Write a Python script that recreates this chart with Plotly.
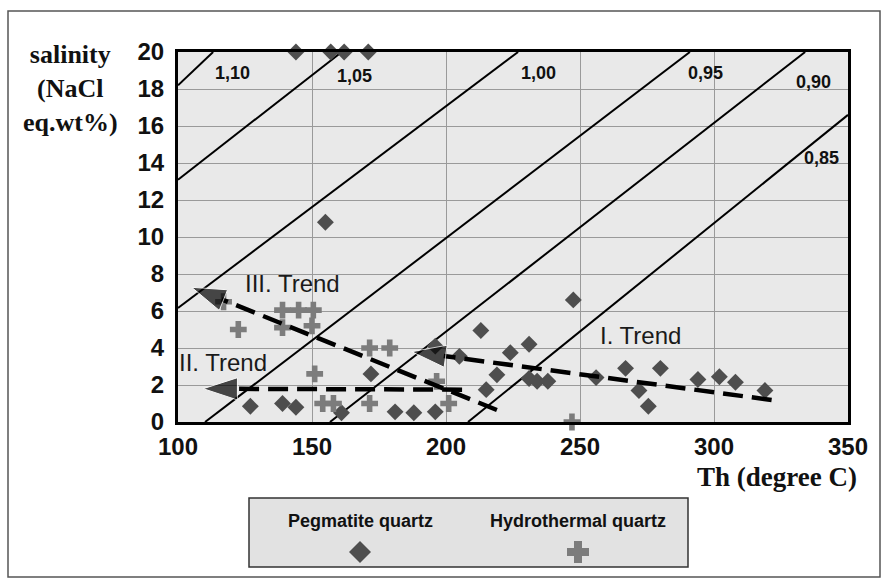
import plotly.graph_objects as go

# ---------------- data ----------------
peg_x = [144, 157, 162, 171, 155, 127, 139, 144, 161, 172, 181, 188, 196,
         196, 205, 213, 215, 219, 224, 231, 231, 234, 238, 247.5, 256, 267,
         272, 275.5, 280, 294, 302, 308, 319]
peg_y = [20, 20, 20, 20, 10.8, 0.85, 1.0, 0.8, 0.5, 2.6, 0.55, 0.5, 0.55,
         4.1, 3.55, 4.95, 1.75, 2.55, 3.75, 4.2, 2.35, 2.2, 2.2, 6.6, 2.4, 2.9,
         1.7, 0.85, 2.9, 2.3, 2.45, 2.15, 1.7]

hyd_x = [117, 122.5, 139, 145, 150.5, 139, 150, 151, 154, 158, 171.5, 171.5,
         179, 196.5, 201, 247]
hyd_y = [6.5, 5.0, 6.05, 6.05, 6.05, 5.1, 5.2, 2.6, 1.0, 1.0, 1.0, 4.0,
         4.0, 2.2, 1.0, 0.0]

# density isopleths (g/cm3): end points
iso_labels = ["1,10", "1,05", "1,00", "0,95", "0,90", "0,85"]
iso_x0 = [100, 100, 100, 110.1, 156.7, 208.2]
iso_y0 = [18.2, 13.1, 6.16, 0, 0, 0]
iso_x1 = [113.1, 161.1, 226.9, 291, 334, 350]
iso_y1 = [20, 20, 20, 20, 20, 16.6]
iso_lab_x = [120.5, 166, 234.4, 297, 337, 340.2]
iso_lab_y = [18.85, 18.7, 18.85, 18.85, 18.4, 14.25]

# trends: tail -> arrow tip
trend_names = ["I. Trend", "II. Trend", "III. Trend"]
trend_x = [[321.5, 187.2], [206, 109.4], [219, 105.1]]
trend_y = [[1.19, 3.8], [1.75, 1.8], [0.65, 7.28]]
trend_lab_x = [272.4, 116.9, 142.7]
trend_lab_y = [4.65, 3.24, 7.5]

x_ticks = [100, 150, 200, 250, 300, 350]
y_ticks = [0, 2, 4, 6, 8, 10, 12, 14, 16, 18, 20]

legend_names = ["Pegmatite quartz", "Hydrothermal quartz"]

# ---------------- figure ----------------
W, H = 889, 585
L, R, T, B = 178, 41, 52, 163
pw, ph = W - L - R, H - T - B


def px(xp):
    return (xp - L) / pw


def py(yp):
    return (H - B - yp) / ph


fig = go.Figure()

for i in range(len(iso_labels)):
    fig.add_trace(go.Scatter(
        x=[iso_x0[i], iso_x1[i]], y=[iso_y0[i], iso_y1[i]], mode="lines",
        line=dict(color="black", width=2), showlegend=False, hoverinfo="skip"))
    fig.add_annotation(x=iso_lab_x[i], y=iso_lab_y[i], text=iso_labels[i],
                       showarrow=False, xanchor="center", yanchor="middle",
                       font=dict(family="Liberation Sans", size=18,
                                 color="#111", weight="bold"))

fig.add_trace(go.Scatter(
    x=peg_x, y=peg_y, mode="markers", name=legend_names[0],
    marker=dict(symbol="diamond", size=13, color="#4e4e4e"),
    cliponaxis=False, showlegend=False))
fig.add_trace(go.Scatter(
    x=hyd_x, y=hyd_y, mode="markers", name=legend_names[1],
    marker=dict(symbol="cross", size=14, color="#7c7c7c"),
    cliponaxis=False, showlegend=False))

for i in range(len(trend_names)):
    fig.add_trace(go.Scatter(
        x=trend_x[i], y=trend_y[i], mode="lines+markers",
        line=dict(color="black", width=4.5, dash="20px,9px"),
        marker=dict(symbol="arrow", size=[0, 36], color="black",
                    angleref="previous"),
        cliponaxis=False, showlegend=False, hoverinfo="skip"))
    fig.add_annotation(x=trend_lab_x[i], y=trend_lab_y[i], text=trend_names[i],
                       showarrow=False, xanchor="center", yanchor="middle",
                       font=dict(family="Liberation Sans", size=24, color="#1a1a1a"))

# legend box and outer frame
fig.add_shape(type="rect", xref="paper", yref="paper",
              x0=px(249), x1=px(688), y0=py(567), y1=py(498),
              fillcolor="#e2e2e2", line=dict(color="#333", width=1.5),
              layer="below")
fig.add_shape(type="rect", xref="paper", yref="paper",
              x0=px(8), x1=px(880), y0=py(577), y1=py(11),
              fillcolor="rgba(0,0,0,0)", line=dict(color="#555", width=1.5))

# legend symbols (drawn as paper-space paths)
leg_px = [360, 578]
cy = 552


def diamond_path(cx, cy, r):
    pts = [(cx, cy - r), (cx + r, cy), (cx, cy + r), (cx - r, cy)]
    return "M " + " L ".join(f"{px(a):.5f},{py(b):.5f}" for a, b in pts) + " Z"


def cross_path(cx, cy, r, t):
    pts = [(cx - t, cy - r), (cx + t, cy - r), (cx + t, cy - t), (cx + r, cy - t),
           (cx + r, cy + t), (cx + t, cy + t), (cx + t, cy + r), (cx - t, cy + r),
           (cx - t, cy + t), (cx - r, cy + t), (cx - r, cy - t), (cx - t, cy - t)]
    return "M " + " L ".join(f"{px(a):.5f},{py(b):.5f}" for a, b in pts) + " Z"


fig.add_shape(type="path", xref="paper", yref="paper",
              path=diamond_path(leg_px[0], cy, 11), fillcolor="#4e4e4e",
              line=dict(width=0))
fig.add_shape(type="path", xref="paper", yref="paper",
              path=cross_path(leg_px[1], cy, 11, 4), fillcolor="#7c7c7c",
              line=dict(width=0))

for name, xp in zip(legend_names, leg_px):
    fig.add_annotation(xref="paper", yref="paper", x=px(xp), y=py(521),
                       text=name, showarrow=False, xanchor="center",
                       yanchor="middle",
                       font=dict(family="Liberation Sans", size=18,
                                 color="#111", weight="bold"))

# axis titles
fig.add_annotation(xref="paper", yref="paper", x=px(70), y=py(38),
                   yanchor="top", xanchor="center",
                   text="salinity<br>(NaCl<br>eq.wt%)", showarrow=False,
                   font=dict(family="Liberation Serif", size=26, color="#111",
                             weight="bold"))
fig.add_annotation(xref="paper", yref="paper", x=px(777), y=py(477),
                   xanchor="center", yanchor="middle",
                   text="Th (degree C)", showarrow=False,
                   font=dict(family="Liberation Serif", size=27, color="#111",
                             weight="bold"))

tickfont = dict(family="Liberation Sans", size=24, color="#111", weight="bold")
fig.update_layout(
    width=W, height=H,
    margin=dict(l=L, r=R, t=T, b=B),
    paper_bgcolor="white", plot_bgcolor="#e9e9e9",
    showlegend=False,
    xaxis=dict(range=[100, 350], tickvals=x_ticks, ticktext=[str(v) for v in x_ticks],
               showgrid=True, gridcolor="#9a9a9a", gridwidth=1, zeroline=False,
               showline=True, linecolor="black", linewidth=3, mirror=True,
               ticks="outside", ticklen=1, tickcolor="rgba(0,0,0,0)",
               tickfont=tickfont),
    yaxis=dict(range=[0, 20], tickvals=y_ticks, ticktext=[str(v) for v in y_ticks],
               showgrid=True, gridcolor="#9a9a9a", gridwidth=1, zeroline=False,
               showline=True, linecolor="black", linewidth=3, mirror=True,
               ticks="outside", ticklen=6, tickcolor="rgba(0,0,0,0)",
               tickfont=tickfont),
)

fig.write_html("out.html")
